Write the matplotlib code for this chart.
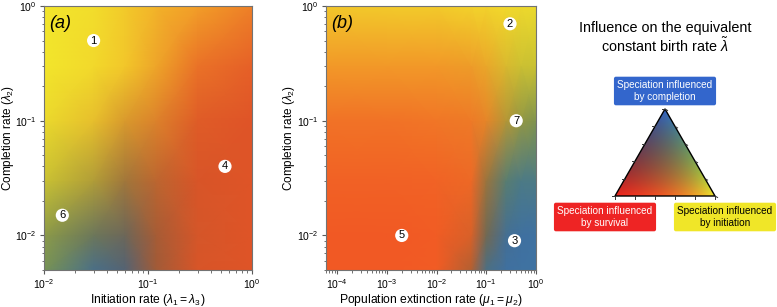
import numpy as np
import matplotlib.pyplot as plt
from matplotlib.patches import Polygon

plt.rcParams['font.family'] = ['Liberation Sans', 'DejaVu Sans']
plt.rcParams['mathtext.fontset'] = 'custom'
plt.rcParams['mathtext.rm'] = 'Liberation Sans'
plt.rcParams['mathtext.it'] = 'Liberation Sans:italic'

# corner colours of the ternary scale
col_survival = (0.94, 0.15, 0.12)    # red
col_initiation = (0.95, 0.90, 0.17)  # yellow
col_completion = (0.20, 0.40, 0.78)  # blue

# panel (a): initiation rate vs completion rate
a_x = [0.01, 0.03, 0.06, 0.12, 0.3, 1.0]
a_y = [0.005, 0.01, 0.03, 0.1, 0.3, 1.0]
# influence weights (rows bottom -> top), initiation = 1 - survival - completion
a_surv = [[0.04, 0.06, 0.16, 0.40, 0.52, 0.54],
          [0.06, 0.13, 0.21, 0.40, 0.51, 0.54],
          [0.04, 0.12, 0.25, 0.38, 0.52, 0.54],
          [0.02, 0.09, 0.19, 0.29, 0.49, 0.54],
          [0.00, 0.03, 0.08, 0.18, 0.38, 0.47],
          [0.00, 0.02, 0.07, 0.14, 0.21, 0.32]]
a_comp = [[0.46, 0.76, 0.68, 0.26, 0.07, 0.05],
          [0.35, 0.52, 0.52, 0.24, 0.08, 0.05],
          [0.12, 0.20, 0.26, 0.16, 0.07, 0.05],
          [0.02, 0.03, 0.07, 0.06, 0.05, 0.05],
          [0.00, 0.00, 0.00, 0.01, 0.02, 0.03],
          [0.00, 0.00, 0.00, 0.00, 0.00, 0.01]]
a_pts_x = [0.03, 0.55, 0.015]
a_pts_y = [0.5, 0.04, 0.015]
a_pts_lab = ['1', '4', '6']

# panel (b): population extinction rate vs completion rate
b_x = [6e-5, 1e-3, 1e-2, 0.05, 0.1, 0.25, 0.5, 1.0]
b_y = [0.005, 0.01, 0.03, 0.1, 0.3, 1.0]
b_surv = [[0.53, 0.53, 0.51, 0.40, 0.07, 0.01, 0.00, 0.00],
          [0.53, 0.53, 0.51, 0.45, 0.22, 0.04, 0.01, 0.00],
          [0.48, 0.48, 0.47, 0.43, 0.25, 0.05, 0.02, 0.02],
          [0.39, 0.39, 0.37, 0.35, 0.29, 0.15, 0.09, 0.06],
          [0.23, 0.23, 0.23, 0.21, 0.17, 0.09, 0.05, 0.04],
          [0.08, 0.07, 0.07, 0.05, 0.05, 0.03, 0.03, 0.02]]
b_comp = [[0.00, 0.00, 0.00, 0.19, 0.74, 0.86, 0.86, 0.86],
          [0.00, 0.00, 0.00, 0.07, 0.48, 0.81, 0.86, 0.86],
          [0.00, 0.00, 0.00, 0.01, 0.29, 0.64, 0.74, 0.74],
          [0.00, 0.00, 0.00, 0.01, 0.03, 0.19, 0.32, 0.41],
          [0.00, 0.00, 0.00, 0.01, 0.02, 0.07, 0.11, 0.12],
          [0.00, 0.00, 0.00, 0.00, 0.00, 0.00, 0.01, 0.02]]
b_pts_x = [0.3, 0.37, 0.002, 0.4]
b_pts_y = [0.7, 0.009, 0.01, 0.1]
b_pts_lab = ['2', '3', '5', '7']


def mix(surv, comp):
    s = np.clip(np.asarray(surv, float), 0, 1)
    c = np.clip(np.asarray(comp, float), 0, 1)
    i = np.clip(1 - s - c, 0, 1)
    logs = [np.log(col_survival), np.log(col_initiation), np.log(col_completion)]
    out = (s[..., None] * logs[0] + i[..., None] * logs[1] + c[..., None] * logs[2])
    return np.clip(np.exp(out), 0, 1)


def panel(ax, x, y, surv, comp, px, py, plab, letter, xlabel):
    X, Y = np.meshgrid(x, y)
    ax.pcolormesh(X, Y, mix(surv, comp), shading='gouraud')
    ax.set_xscale('log')
    ax.set_yscale('log')
    ax.set_xlim(x[0], x[-1])
    ax.set_ylim(y[0], y[-1])
    ax.scatter(px, py, s=90, c='white', edgecolors='none', zorder=3)
    for xx, yy, t in zip(px, py, plab):
        ax.text(xx, yy, t, ha='center', va='center', fontsize=8, zorder=4)
    ax.text(0.025, 0.935, letter, transform=ax.transAxes, style='italic',
            fontsize=13, va='center', ha='left')
    ax.set_xlabel(xlabel, fontsize=8.7)
    ax.set_ylabel(r'Completion rate ($\lambda_2$)', fontsize=8.5)
    ax.xaxis.set_label_coords(0.5, -0.083)
    ax.yaxis.set_label_coords(-0.137, 0.5)
    ax.tick_params(which='both', colors='0.35', labelcolor='black', labelsize=7.5)
    ax.tick_params(which='major', length=3, pad=2.5)
    ax.tick_params(which='minor', length=1.8)
    for sp in ax.spines.values():
        sp.set_color('0.45')


fig = plt.figure(figsize=(7.77, 3.07), dpi=100)
ax_a = fig.add_axes([44 / 777, 37 / 307, 208 / 777, 264 / 307])
ax_b = fig.add_axes([326 / 777, 37 / 307, 210 / 777, 264 / 307])

panel(ax_a, a_x, a_y, a_surv, a_comp, a_pts_x, a_pts_y, a_pts_lab, '(a)',
      r'Initiation rate ($\lambda_1 = \lambda_3$)')
panel(ax_b, b_x, b_y, b_surv, b_comp, b_pts_x, b_pts_y, b_pts_lab, '(b)',
      r'Population extinction rate ($\mu_1 = \mu_2$)')

# ternary colour key (axes in pixel units)
ax_k = fig.add_axes([545 / 777, 0, 232 / 777, 1])
ax_k.set_xlim(545, 777)
ax_k.set_ylim(307, 0)
ax_k.axis('off')

ax_k.text(665, 28, 'Influence on the equivalent', ha='center', va='center', fontsize=10.4)
ax_k.text(665, 46, r'constant birth rate $\tilde{\lambda}$', ha='center', va='center',
          fontsize=10.4)

p_s, p_i, p_c = (615, 196), (715, 196), (665, 109)
gx, gy = np.meshgrid(np.linspace(615, 715, 250), np.linspace(109, 196, 220))
w_c = (196 - gy) / 87
w_i = (gx - 615) / 100 - w_c / 2
w_s = 1 - w_c - w_i
img = ax_k.imshow(mix(w_s, w_c), extent=(615, 715, 196, 109), origin='upper',
                  interpolation='bilinear', aspect='auto')
tri = Polygon([p_s, p_i, p_c], closed=True, fc='none', ec='black', lw=1.0)
ax_k.add_patch(tri)
img.set_clip_path(tri)

# side ticks
for a, b, d in [(p_s, p_i, (0, 3)), (p_i, p_c, (2.6, 1.5)), (p_c, p_s, (-3, 0))]:
    for f in np.linspace(0, 1, 6):
        tx = a[0] + f * (b[0] - a[0])
        ty = a[1] + f * (b[1] - a[1])
        ax_k.plot([tx, tx + d[0]], [ty, ty + d[1]], color='0.2', lw=0.7)

box = dict(boxstyle='round,pad=0.35,rounding_size=0.2', ec='none')
ax_k.text(665, 91, 'Speciation influenced\nby completion', ha='center', va='center',
          fontsize=7.2, color='white', bbox=dict(box, fc='#3366cc'), clip_on=False)
ax_k.text(605, 217, 'Speciation influenced\nby survival', ha='center', va='center',
          fontsize=7.2, color='white', bbox=dict(box, fc='#ee2424'), clip_on=False)
ax_k.text(725, 217, 'Speciation influenced\nby initiation', ha='center', va='center',
          fontsize=7.2, color='black', bbox=dict(box, fc='#f0e628'), clip_on=False)

fig.savefig('out.png', dpi=100)
